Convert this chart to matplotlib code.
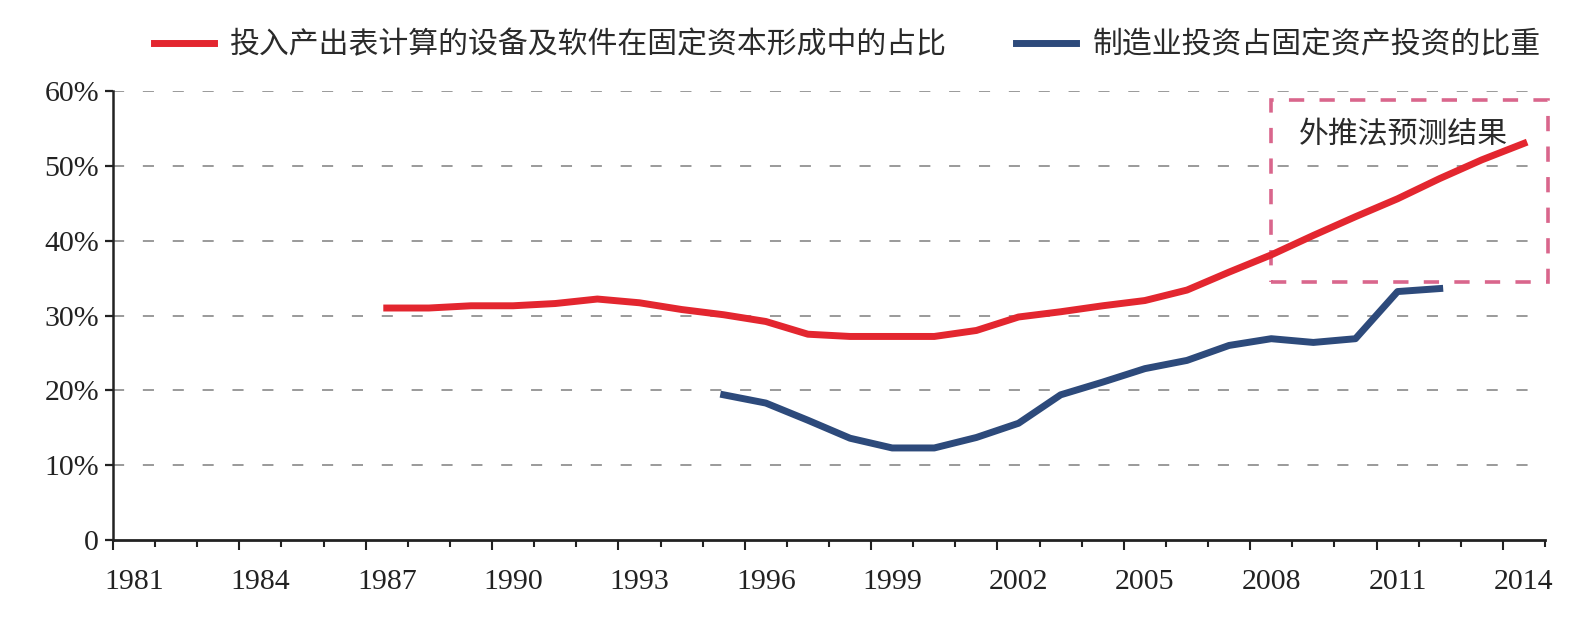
import matplotlib
matplotlib.use("Agg")
import matplotlib.pyplot as plt
from matplotlib.patches import Rectangle

plt.rcParams['lines.scale_dashes'] = False

# ---- data ----
years = list(range(1981, 2015))
red_years = list(range(1987, 2015))
red_vals = [31.0, 31.0, 31.3, 31.3, 31.6, 32.2, 31.7, 30.8, 30.1, 29.2, 27.5, 27.2,
            27.2, 27.2, 28.0, 29.8, 30.5, 31.3, 32.0, 33.4, 35.8, 38.1, 40.7, 43.2,
            45.6, 48.3, 50.8, 53.0]
blue_years = list(range(1995, 2013))
blue_vals = [19.4, 18.3, 16.0, 13.6, 12.3, 12.3, 13.7, 15.6, 19.4, 21.1, 22.9, 24.0,
             26.0, 26.9, 26.4, 26.9, 33.2, 33.6]
label_years = list(range(1981, 2015, 3))
y_ticks = [0, 10, 20, 30, 40, 50, 60]
y_labels = ['0', '10%', '20%', '30%', '40%', '50%', '60%']
red_name = '投入产出表计算的设备及软件在固定资本形成中的占比'
blue_name = '制造业投资占固定资产投资的比重'
box_text = '外推法预测结果'
box_years = (2008, 2014)
box_range = (34.5, 58.8)

RED = '#e3262f'
BLUE = '#2d4a7b'
PINK = '#d9668c'
CJK = ['Noto Sans CJK SC', 'DejaVu Sans']
SERIF = ['Liberation Serif', 'DejaVu Serif']

W, H = 1586, 622
fig = plt.figure(figsize=(W / 100, H / 100), dpi=100)
ax = fig.add_axes([113 / W, 1 - 540 / H, (1545 - 113) / W, (540 - 91) / H])

def pos(y):
    return years.index(y) + 0.5

rx = [pos(y) for y in red_years]
bx = [pos(y) for y in blue_years]
ax.plot(rx, red_vals, color=RED, lw=5.0, solid_joinstyle='round', label=red_name, zorder=4)
ax.plot(bx, blue_vals, color=BLUE, lw=5.0, solid_joinstyle='round', label=blue_name, zorder=4)

ax.set_xlim(0, len(years))
ax.set_ylim(0, 60)

# grid
for v in y_ticks[1:]:
    ax.axhline(v, color='#9a9a9a', lw=1.4, linestyle=(0, (8, 13.5)), zorder=1)

# spines
for s in ['top', 'right']:
    ax.spines[s].set_visible(False)
ax.spines['left'].set_linewidth(1.8)
ax.spines['bottom'].set_linewidth(2.0)
ax.spines['left'].set_color('#222222')
ax.spines['bottom'].set_color('#222222')

# y ticks
ax.set_yticks(y_ticks)
ax.set_yticklabels(y_labels, fontfamily=SERIF, fontsize=21.5, color='#222222')
ax.tick_params(axis='y', direction='out', length=6, width=1.6, pad=4, color='#222222')

# x ticks: boundaries
major = list(range(0, len(years), 3))
minor = [i for i in range(0, len(years) + 1) if i not in major]
ax.set_xticks(major)
ax.set_xticklabels([''] * len(major))
ax.set_xticks(minor, minor=True)
ax.tick_params(axis='x', which='major', direction='out', length=7.5, width=1.5, color='#222222')
ax.tick_params(axis='x', which='minor', direction='out', length=5, width=1.5, color='#222222')

sec = ax.secondary_xaxis('bottom')
sec.set_xticks([pos(y) for y in label_years])
sec.set_xticklabels([str(y) for y in label_years], fontfamily=SERIF, fontsize=21.5, color='#222222')
sec.tick_params(axis='x', length=0, pad=21)
sec.spines['bottom'].set_visible(False)

# forecast box
x0 = pos(box_years[0])
x1 = pos(box_years[1]) + 0.57
rect = Rectangle((x0, box_range[0]), x1 - x0, box_range[1] - box_range[0], fill=False,
                 edgecolor=PINK, lw=2.6, linestyle=(0, (11, 11)), clip_on=False, zorder=3)
ax.add_patch(rect)
ax.text(30.65, 54.2, box_text, ha='center', va='center', fontsize=21.5, family=CJK,
        color='#2a2a2a', zorder=5)

# legend
leg = fig.legend(loc='center left', bbox_to_anchor=(154 / W, 1 - 44.5 / H), ncol=2,
                 frameon=False, prop={'family': CJK, 'size': 21.5}, handlelength=2.0,
                 handletextpad=0.56, columnspacing=2.3, borderpad=0, borderaxespad=0)
for t in leg.get_texts():
    t.set_color('#2a2a2a')

fig.savefig('out.png', dpi=100)
